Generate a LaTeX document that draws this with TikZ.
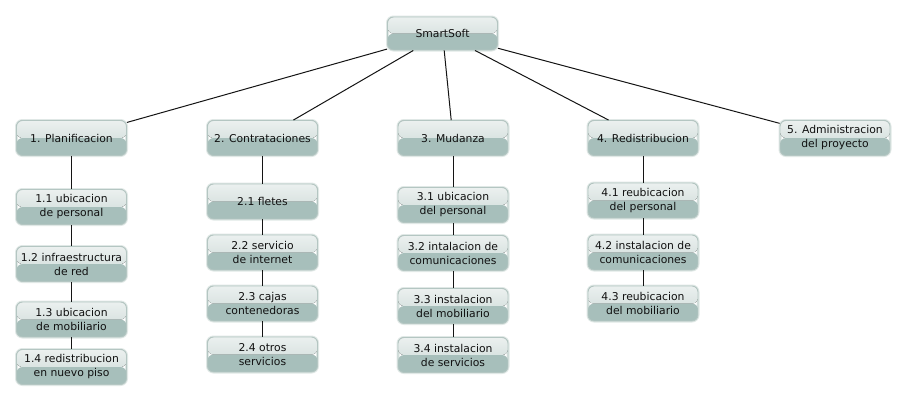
\documentclass[tikz,border=0pt]{standalone}
\usepackage{fontspec}
\setmainfont{DejaVu Sans}
\definecolor{topA}{HTML}{EBF0EF}
\definecolor{topB}{HTML}{CAD8D5}
\definecolor{botc}{HTML}{A7BFBB}
\definecolor{boxedge}{HTML}{B4C6C2}
\definecolor{glow}{HTML}{E0E8E6}
\definecolor{txt}{HTML}{111111}
\definecolor{lnc}{HTML}{141414}
\newcommand{\lblfont}{\fontsize{10.8}{14}\selectfont}
\tikzset{
  box/.style={rounded corners=6pt, draw=boxedge, line width=0.9pt,
    preaction={draw=glow, line width=3pt},
    minimum width=110pt, minimum height=35pt, inner sep=0pt,
    align=center, font=\lblfont, text=txt,
    path picture={
      \fill[top color=topA, bottom color=topB]
        (path picture bounding box.north west) rectangle (path picture bounding box.east);
      \fill[botc]
        (path picture bounding box.west) rectangle (path picture bounding box.south east);
    }},
  conn/.style={draw=lnc, line width=1pt}
}
\begin{document}
\begin{tikzpicture}[x=1pt,y=-1pt]
\useasboundingbox[fill=white] (0,0) rectangle (906,405);
% connectors first (behind boxes)
\coordinate (croot) at (442.5,33.5);
\node[box, minimum height=33pt] (root) at (442.5,33.5) {SmartSoft};
\node[box] (p1) at (71.5,138) {1. Planificacion};
\node[box] (p2) at (262.5,138) {2. Contrataciones};
\node[box] (p3) at (453,138) {3. Mudanza};
\node[box] (p4) at (643,138) {4. Redistribucion};
\node[box] (p5) at (835,138) {5. Administracion\\del proyecto};
% column 1
\node[box] (p11) at (71.5,207) {1.1 ubicacion\\de personal};
\node[box] (p12) at (71.5,264) {1.2 infraestructura\\de red};
\node[box] (p13) at (71.5,319.5) {1.3 ubicacion\\de mobiliario};
\node[box] (p14) at (71.5,367) {1.4 redistribucion\\en nuevo piso};
% column 2
\node[box] (p21) at (262.5,201.5) {2.1 fletes};
\node[box] (p22) at (262.5,252.5) {2.2 servicio\\de internet};
\node[box] (p23) at (262.5,303.5) {2.3 cajas\\contenedoras};
\node[box] (p24) at (262.5,354.5) {2.4 otros\\servicios};
% column 3
\node[box] (p31) at (453,205) {3.1 ubicacion\\del personal};
\node[box] (p32) at (453,253) {3.2 intalacion de\\comunicaciones};
\node[box] (p33) at (453,306) {3.3 instalacion\\del mobiliario};
\node[box] (p34) at (453,355) {3.4 instalacion\\de servicios};
% column 4
\node[box] (p41) at (643,200.5) {4.1 reubicacion\\del personal};
\node[box] (p42) at (643,252.5) {4.2 instalacion de\\comunicaciones};
\node[box] (p43) at (643,303.5) {4.3 reubicacion\\del mobiliario};
% connectors
\foreach \c in {p1,p2,p3,p4,p5} \draw[conn] (root) -- (\c);
\draw[conn] (p1) -- (p11) (p11) -- (p12) (p12) -- (p13) (p13) -- (p14);
\draw[conn] (p2) -- (p21) (p21) -- (p22) (p22) -- (p23) (p23) -- (p24);
\draw[conn] (p3) -- (p31) (p31) -- (p32) (p32) -- (p33) (p33) -- (p34);
\draw[conn] (p4) -- (p41) (p41) -- (p42) (p42) -- (p43);
\end{tikzpicture}
\end{document}
